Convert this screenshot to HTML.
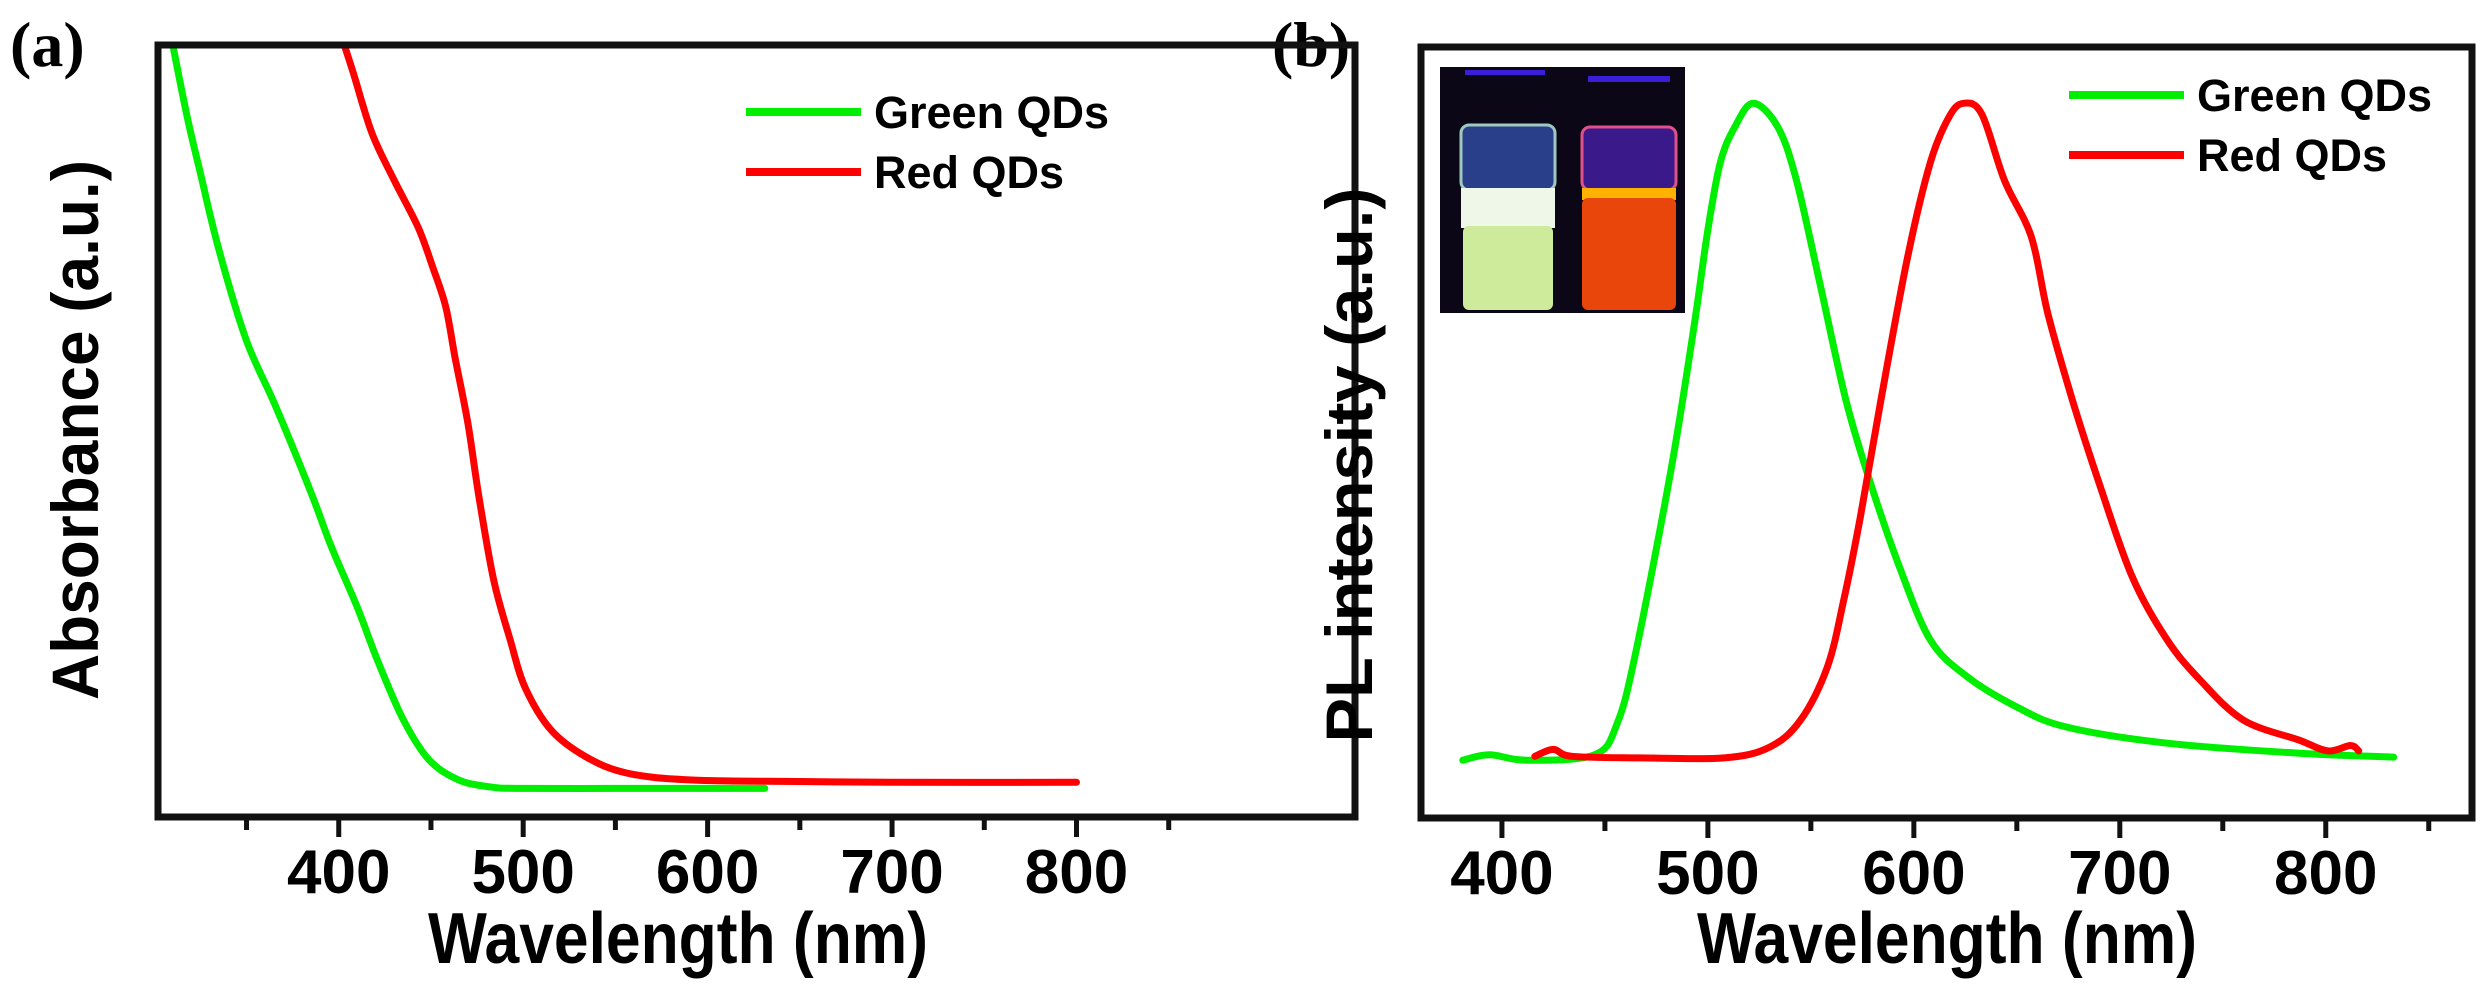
<!DOCTYPE html>
<html><head><meta charset="utf-8"><style>
html,body{margin:0;padding:0;background:#fff;}
svg{display:block;}
text{font-family:"Liberation Sans",Arial,sans-serif;font-weight:bold;fill:#000;}
.serif{font-family:"Liberation Serif","Times New Roman",serif;}
</style></head><body>
<svg id="fig" width="2486" height="994" viewBox="0 0 2486 994" xmlns="http://www.w3.org/2000/svg">
<text class="serif" x="10" y="66" font-size="64">(a)</text>
<text class="serif" x="1272" y="66" font-size="64">(b)</text>
<g id="pa"></g>
<g id="pb"></g>
<g id="inset">
  <rect x="1440" y="67" width="245" height="246" fill="#0b0716"/>
  <rect x="1465" y="70" width="80" height="5" fill="#3b1fd8"/>
  <rect x="1588" y="76" width="82" height="6" fill="#3b1fd8"/>
  <rect x="1461" y="125" width="94" height="65" rx="8" fill="#2a3f8a" stroke="#9fc8c0" stroke-width="3"/>
  <rect x="1461" y="188" width="94" height="40" fill="#eef7e8"/>
  <rect x="1463" y="226" width="90" height="84" rx="6" fill="#cdeb9a"/>
  <rect x="1582" y="127" width="94" height="63" rx="8" fill="#3a1a8a" stroke="#e0508a" stroke-width="3"/>
  <rect x="1582" y="188" width="94" height="12" fill="#ffb300"/>
  <rect x="1582" y="198" width="94" height="112" rx="6" fill="#e8460a"/>
</g>
</svg>
<script>
// Panel (a): absorbance data
const absGreenX = [310,318,325,335,350,366,385,396,410,421,435,449,465,482,498,550,600,631];
const absGreenY = [1.0,0.905,0.834,0.735,0.617,0.531,0.42,0.35,0.272,0.203,0.126,0.074,0.048,0.039,0.037,0.037,0.037,0.037];
const absRedX = [403,408,418,430,443,451,458,463,470,476,484,493,501,515,534,556,590,650,700,800];
const absRedY = [1.0,0.963,0.886,0.825,0.764,0.712,0.661,0.596,0.510,0.415,0.307,0.229,0.168,0.113,0.078,0.057,0.048,0.046,0.045,0.045];
const absTicks = [400,500,600,700,800];
const absMinor = [350,450,550,650,750,850];
// Panel (b): PL data
const plGreenX = [381,394,412,445,456,465,482,493,500,506,513,522,534,543,554,567,579,593,608,626,650,674,723,787,833];
const plGreenY = [0.075,0.082,0.075,0.082,0.123,0.215,0.45,0.633,0.763,0.85,0.896,0.927,0.896,0.827,0.698,0.542,0.434,0.326,0.231,0.183,0.144,0.118,0.097,0.084,0.079];
const plRedX = [416,425,434,467,508,530,545,558,566,574,584,597,608,617,624,633,644,657,665,677,690,706,723,739,760,787,801,812,816];
const plRedY = [0.08,0.089,0.08,0.078,0.078,0.092,0.127,0.196,0.283,0.39,0.542,0.728,0.85,0.909,0.927,0.913,0.827,0.754,0.655,0.542,0.434,0.313,0.231,0.179,0.127,0.101,0.087,0.094,0.087];
const plTicks = [400,500,600,700,800];
const plMinor = [450,550,650,750,850];

const NS='http://www.w3.org/2000/svg';
function mk(parent,tag,attrs){const e=document.createElementNS(NS,tag);for(const k in attrs)e.setAttribute(k,attrs[k]);parent.appendChild(e);return e;}
function smooth(p){
  let d='M'+p[0][0].toFixed(1)+','+p[0][1].toFixed(1);
  for(let i=0;i<p.length-1;i++){
    const p0=p[i-1]||p[i],p1=p[i],p2=p[i+1],p3=p[i+2]||p2;
    const c1=[p1[0]+(p2[0]-p0[0])/6,p1[1]+(p2[1]-p0[1])/6];
    const c2=[p2[0]-(p3[0]-p1[0])/6,p2[1]-(p3[1]-p1[1])/6];
    d+=' C'+c1[0].toFixed(1)+','+c1[1].toFixed(1)+' '+c2[0].toFixed(1)+','+c2[1].toFixed(1)+' '+p2[0].toFixed(1)+','+p2[1].toFixed(1);
  }
  return d;
}

function drawPanel(g,cfg){
  const sx=v=>cfg.x0+(v-cfg.xmin)/(cfg.xmax-cfg.xmin)*(cfg.x1-cfg.x0);
  const sy=v=>cfg.yb-v*(cfg.yb-cfg.yt);
  cfg.series.forEach(s=>{
    const pts=s.x.map((v,i)=>[sx(v),sy(s.y[i])]);
    const pl=mk(g,'path',{d:smooth(pts),fill:'none',stroke:s.color,'stroke-width':7,'stroke-linejoin':'round','stroke-linecap':'round'});
    
    
  });
  const fr=mk(g,'rect',{x:cfg.x0,y:cfg.yt,width:cfg.x1-cfg.x0,height:cfg.yb-cfg.yt,fill:'none',stroke:'#111','stroke-width':7});
  
  
  cfg.ticks.forEach(t=>{
    const x=sx(t);
    const tl=mk(g,'line',{x1:x,y1:cfg.yb,x2:x,y2:cfg.yb+20,stroke:'#111','stroke-width':5});
    
    
    const tx=mk(g,'text',{x:x,y:cfg.yb+76,'font-size':62,'text-anchor':'middle'});
    tx.textContent=t;
    
    
  });
  cfg.minor.forEach(t=>{
    const x=sx(t);
    const ml=mk(g,'line',{x1:x,y1:cfg.yb,x2:x,y2:cfg.yb+13,stroke:'#111','stroke-width':5});
    
    
  });
  const xt=mk(g,'text',{x:cfg.xtx,y:963,'font-size':72,textLength:500,lengthAdjust:'spacingAndGlyphs'});
  xt.textContent='Wavelength (nm)';
  
  
  const yt=mk(g,'text',{x:0,y:0,'font-size':66,'text-anchor':'middle',textLength:cfg.ylen,lengthAdjust:'spacingAndGlyphs',transform:'translate('+cfg.ytx+','+cfg.yty+') rotate(-90)'});
  yt.textContent=cfg.ytitle;
  
  
  cfg.series.forEach((s,i)=>{
    const y=cfg.legY+i*60;
    const ll=mk(g,'line',{x1:cfg.legX,y1:y,x2:cfg.legX+115,y2:y,stroke:s.color,'stroke-width':8});
    
    
    const lt=mk(g,'text',{x:cfg.legX+128,y:y+16,'font-size':45});
    lt.textContent=s.label;
    
    
  });
}

drawPanel(document.getElementById('pa'),{
  x0:158,x1:1355,xmin:302,xmax:951,yt:45,yb:817,
  ticks:absTicks,minor:absMinor,xtx:428,ytx:98,yty:430,ylen:540,ytitle:'Absorbance (a.u.)',
  legX:746,legY:112,
  series:[{x:absGreenX,y:absGreenY,color:'#00ee00',label:'Green QDs',name:'green-absorbance-line'},
          {x:absRedX,y:absRedY,color:'#ff0000',label:'Red QDs',name:'red-absorbance-line'}]
});
drawPanel(document.getElementById('pb'),{
  x0:1421,x1:2472,xmin:360.7,xmax:871,yt:47,yb:818,
  ticks:plTicks,minor:plMinor,xtx:1697,ytx:1372,yty:465,ylen:555,ytitle:'PL intensity (a.u.)',
  legX:2069,legY:95,
  series:[{x:plGreenX,y:plGreenY,color:'#00ee00',label:'Green QDs',name:'green-pl-line'},
          {x:plRedX,y:plRedY,color:'#ff0000',label:'Red QDs',name:'red-pl-line'}]
});
</script>
</body></html>
